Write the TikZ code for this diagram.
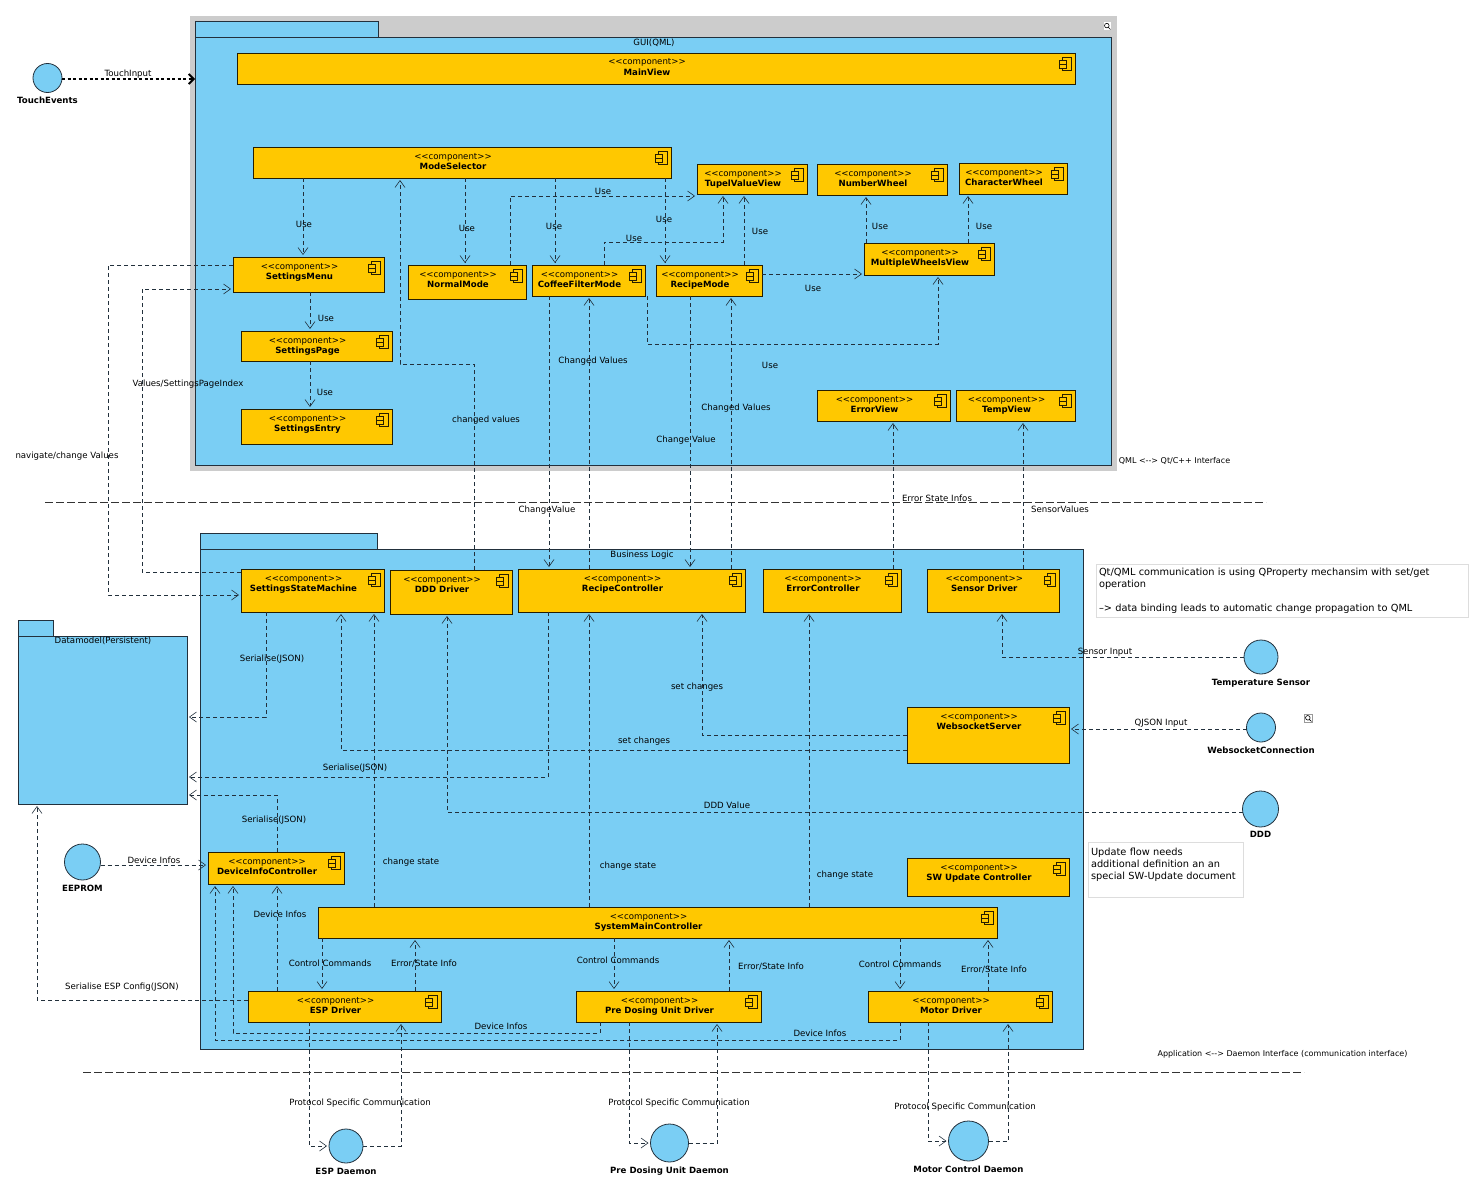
\documentclass[tikz,border=0pt]{standalone}
\usepackage{fontspec}
\usetikzlibrary{arrows.meta}
\newfontfamily\dejavu{DejaVu Sans}
\newcommand{\dvfont}{\dejavu\fontsize{8.6}{10.7}\selectfont}
\newcommand{\comptext}[1]{\begin{tabular}[t]{@{}c@{}}<<component>>\\\bfseries #1\end{tabular}\hspace*{18pt}}
\definecolor{pkgblue}{HTML}{7ACEF4}
\definecolor{compyellow}{HTML}{FFC800}
\definecolor{selgrey}{HTML}{CCCCCC}
\definecolor{linedark}{HTML}{22303C}
\definecolor{notegrey}{HTML}{DDDDDD}
\tikzset{
  pkgbody/.style={draw=linedark,fill=pkgblue,line width=0.8pt,inner sep=0pt,outer sep=0pt,anchor=north west},
  compbox/.style 2 args={draw=black!85!compyellow,fill=compyellow,line width=0.8pt,inner sep=0pt,outer sep=0pt,
    anchor=north west,font=\dvfont,minimum width=#1,text height=12pt,text depth=#2pt-12pt,
    path picture={
      \draw[line width=0.7pt] ([shift={(-12.4pt,-4pt)}]path picture bounding box.north east) rectangle ++(8.4pt,-13.7pt);
      \draw[line width=0.7pt,fill=compyellow] ([shift={(-15.4pt,-7.3pt)}]path picture bounding box.north east) rectangle ++(6.4pt,-8.4pt);
      \draw[line width=1.2pt] ([shift={(-15.4pt,-11.4pt)}]path picture bounding box.north east) -- ++(6.4pt,0);
    }},
  iface/.style={circle,draw=linedark,fill=pkgblue,line width=0.8pt,inner sep=0pt,outer sep=0pt},
  ifacetext/.style={font=\dvfont\bfseries,inner sep=0pt,label distance=4.5pt},
  dep/.style={draw=linedark,line width=0.6pt,dash pattern=on 4pt off 3pt,shorten >=2pt,-{Straight Barb[length=7pt,width=10pt,line width=0.6pt]}},
  lbl/.style={font=\dvfont,inner sep=0pt},
  smalllbl/.style={font=\dejavu\fontsize{8}{10}\selectfont,inner sep=0pt},
  divider/.style={draw=black!80,line width=0.6pt,dash pattern=on 8pt off 3pt},
  notebox/.style={draw=notegrey,fill=white,line width=0.8pt,inner sep=3pt,outer sep=0pt,anchor=north west,align=left,font=\dejavu\fontsize{9.8}{12}\selectfont}
}
\begin{document}
\begin{tikzpicture}[x=1pt,y=-1pt,label distance=4.5pt]
\useasboundingbox (0,0) rectangle (1482,1188);

% Marking selection behind GUI package
\fill[selgrey] (190,16) rectangle (1117,471);

% Marking packages
\node[pkgbody,minimum width=183,minimum height=16] (GUItab) at (195,21) {};
\node[pkgbody,minimum width=916,minimum height=428] (GUI) at (195,37) {};
\node[lbl] (GUIlabel) at (654,43) {GUI(QML)};
\node[pkgbody,minimum width=177,minimum height=16] (Businesstab) at (200,533) {};
\node[pkgbody,minimum width=883,minimum height=500] (Business) at (200,549) {};
\node[lbl] (Businesslabel) at (642,555) {Business Logic};
\node[pkgbody,minimum width=35,minimum height=16] (Datamodeltab) at (18,620) {};
\node[pkgbody,minimum width=169,minimum height=168] (Datamodel) at (18,636) {};
\node[lbl] (Datamodellabel) at (103,641) {Datamodel(Persistent)};

% Marking components of GUI
\node[compbox={838}{31}] (MainView) at (237,53) {\comptext{MainView}};
\node[compbox={418}{31}] (ModeSelector) at (253,147) {\comptext{ModeSelector}};
\node[compbox={110}{30}] (TupelValueView) at (697,164) {\comptext{TupelValueView}};
\node[compbox={130}{31}] (NumberWheel) at (817,164) {\comptext{NumberWheel}};
\node[compbox={108}{31}] (CharacterWheel) at (959,163) {\comptext{CharacterWheel}};
\node[compbox={151}{35}] (SettingsMenu) at (233,257) {\comptext{SettingsMenu}};
\node[compbox={118}{34}] (NormalMode) at (408,265) {\comptext{NormalMode}};
\node[compbox={113}{31}] (CoffeeFilterMode) at (532,265) {\comptext{CoffeeFilterMode}};
\node[compbox={106}{31}] (RecipeMode) at (656,265) {\comptext{RecipeMode}};
\node[compbox={130}{32}] (MultipleWheelsView) at (864,243) {\comptext{MultipleWheelsView}};
\node[compbox={151}{30}] (SettingsPage) at (241,331) {\comptext{SettingsPage}};
\node[compbox={151}{35}] (SettingsEntry) at (241,409) {\comptext{SettingsEntry}};
\node[compbox={133}{31}] (ErrorView) at (817,390) {\comptext{ErrorView}};
\node[compbox={119}{31}] (TempView) at (956,390) {\comptext{TempView}};

% Marking components of business logic
\node[compbox={143}{43}] (SettingsStateMachine) at (241,569) {\comptext{SettingsStateMachine}};
\node[compbox={122}{44}] (DDDDriver) at (390,570) {\comptext{DDD Driver}};
\node[compbox={227}{43}] (RecipeController) at (518,569) {\comptext{RecipeController}};
\node[compbox={138}{43}] (ErrorController) at (763,569) {\comptext{ErrorController}};
\node[compbox={132.5}{43}] (SensorDriver) at (927,569) {\comptext{Sensor Driver}};
\node[compbox={162}{56}] (WebsocketServer) at (907,707) {\comptext{WebsocketServer}};
\node[compbox={162}{38}] (SWUpdateController) at (907,858) {\comptext{SW Update Controller}};
\node[compbox={136}{32}] (DeviceInfoController) at (208,852) {\comptext{DeviceInfoController}};
\node[compbox={679}{31}] (SystemMainController) at (318,907) {\comptext{SystemMainController}};
\node[compbox={193}{31}] (ESPDriver) at (248,991) {\comptext{ESP Driver}};
\node[compbox={185}{31}] (PreDosingDriver) at (576,991) {\comptext{Pre Dosing Unit Driver}};
\node[compbox={184}{31}] (MotorDriver) at (868,991) {\comptext{Motor Driver}};

% Marking interfaces
\node[iface,minimum size=29,label={[ifacetext]below:TouchEvents}] (TouchEvents) at (47.5,78) {};
\node[iface,minimum size=34,label={[ifacetext]below:Temperature Sensor}] (TemperatureSensor) at (1261,657) {};
\node[iface,minimum size=29,label={[ifacetext]below:WebsocketConnection}] (WebsocketConnection) at (1261,727.5) {};
\node[iface,minimum size=36,label={[ifacetext]below:DDD}] (DDD) at (1260.5,809) {};
\node[iface,minimum size=36,label={[ifacetext]below:EEPROM}] (EEPROM) at (82.5,862) {};
\node[iface,minimum size=34,label={[ifacetext]below:ESP Daemon}] (ESPDaemon) at (346,1146) {};
\node[iface,minimum size=38,label={[ifacetext]below:Pre Dosing Unit Daemon}] (PreDosingDaemon) at (669.5,1143) {};
\node[iface,minimum size=40,label={[ifacetext]below:Motor Control Daemon}] (MotorDaemon) at (968.5,1141) {};

% Marking notes
\node[notebox,text width=366pt,minimum height=53] (PropertyNote) at (1096,564) {Qt/QML communication is using QProperty mechansim with set/get\\operation\\[12pt]–> data binding leads to automatic change propagation to QML};
\node[notebox,text width=149pt,minimum height=55] (UpdateNote) at (1088,842) {Update flow needs\\additional definition an an\\special SW-Update document\\\mbox{}};

% Drawing segment TouchEvents GUI
\draw[black,line width=2.3pt,dash pattern=on 3pt off 2.5pt,-{Straight Barb[length=5pt,width=10pt,line width=1.8pt]}] (TouchEvents.east |- 0,79) -- (GUI.west |- 0,79);
\node[lbl] (TouchInputlabel) at (128,74) {TouchInput};

% Drawing segments from ModeSelector
\draw[dep] (ModeSelector.south -| 303,0) -- (SettingsMenu.north -| 303,0);
\draw[dep] (ModeSelector.south -| 465,0) -- (NormalMode.north -| 465,0);
\draw[dep] (ModeSelector.south -| 555,0) -- (CoffeeFilterMode.north -| 555,0);
\draw[dep] (ModeSelector.south -| 665,0) -- (RecipeMode.north -| 665,0);
\node[lbl] (Use1) at (304,224) {Use};
\node[lbl] (Use2) at (467,228) {Use};
\node[lbl] (Use3) at (554,226) {Use};
\node[lbl] (Use4) at (664,219) {Use};

% Drawing segments to TupelValueView
\draw[dep] (NormalMode.north -| 510,0) |- (TupelValueView.west |- 0,196);
\draw[dep] (CoffeeFilterMode.north -| 604,0) |- (723,242) -- (TupelValueView.south -| 723,0);
\draw[dep] (RecipeMode.north -| 744,0) -- (TupelValueView.south -| 744,0);
\node[lbl] (Use5) at (603,191) {Use};
\node[lbl] (Use6) at (634,238) {Use};
\node[lbl] (Use7) at (760,231) {Use};

% Drawing segments around MultipleWheelsView
\draw[dep] (RecipeMode.east |- 0,274) -- (MultipleWheelsView.west |- 0,274);
\draw[dep] (MultipleWheelsView.north -| 866,0) -- (NumberWheel.south -| 866,0);
\draw[dep] (MultipleWheelsView.north -| 968,0) -- (CharacterWheel.south -| 968,0);
\draw[dep] (CoffeeFilterMode.south -| 647,0) |- (938,344) -- (MultipleWheelsView.south -| 938,0);
\node[lbl] (Use8) at (813,288) {Use};
\node[lbl] (Use9) at (880,226) {Use};
\node[lbl] (Use10) at (984,226) {Use};
\node[lbl] (Use11) at (770,365) {Use};

% Drawing segments of settings
\draw[dep] (SettingsMenu.south -| 310,0) -- (SettingsPage.north -| 310,0);
\draw[dep] (SettingsPage.south -| 310,0) -- (SettingsEntry.north -| 310,0);
\draw[dep] (SettingsMenu.west |- 0,265) -| (108,595) -- (SettingsStateMachine.west |- 0,595);
\draw[dep] (SettingsStateMachine.west |- 0,572) -| (142,289) -- (SettingsMenu.west |- 0,289);
\node[lbl] (Use12) at (326,318) {Use};
\node[lbl] (Use13) at (325,392) {Use};
\node[lbl] (Navigatelabel) at (67,456) {navigate/change Values};
\node[lbl] (Indexlabel) at (188,384) {Values/SettingsPageIndex};

% Drawing segments across the interface
\draw[dep] (DDDDriver.north -| 474,0) |- (400,364) -- (ModeSelector.south -| 400,0);
\draw[dep] (CoffeeFilterMode.south -| 549,0) -- (RecipeController.north -| 549,0);
\draw[dep] (RecipeController.north -| 589,0) -- (CoffeeFilterMode.south -| 589,0);
\draw[dep] (RecipeMode.south -| 690,0) -- (RecipeController.north -| 690,0);
\draw[dep] (RecipeController.north -| 731,0) -- (RecipeMode.south -| 731,0);
\draw[dep] (ErrorController.north -| 893,0) -- (ErrorView.south -| 893,0);
\draw[dep] (SensorDriver.north -| 1023,0) -- (TempView.south -| 1023,0);
\node[lbl] (ChangedValues1) at (486,420) {changed values};
\node[lbl] (ChangeValue1) at (547,510) {ChangeValue};
\node[lbl] (ChangedValues2) at (593,361) {Changed Values};
\node[lbl] (ChangeValue2) at (686,440) {Change Value};
\node[lbl] (ChangedValues3) at (736,408) {Changed Values};
\node[lbl] (ErrorInfos) at (937,498) {Error State Infos};
\node[lbl] (SensorValues) at (1060,509) {SensorValues};

% Drawing segments to Datamodel
\draw[dep] (SettingsStateMachine.south -| 266,0) |- (Datamodel.east |- 0,717);
\draw[dep] (RecipeController.south -| 548,0) |- (Datamodel.east |- 0,777);
\draw[dep] (DeviceInfoController.north -| 277,0) |- (Datamodel.east |- 0,795);
\draw[dep] (ESPDriver.west |- 0,1000) -| (Datamodel.south -| 37,0);
\node[lbl] (Serialise1) at (272,659) {Serialise(JSON)};
\node[lbl] (Serialise2) at (355,768) {Serialise(JSON)};
\node[lbl] (Serialise3) at (274,820) {Serialise(JSON)};
\node[lbl] (Serialise4) at (122,987) {Serialise ESP Config(JSON)};

% Drawing segments to DeviceInfoController
\draw[dep] (EEPROM.east |- 0,865) -- (DeviceInfoController.west |- 0,865);
\draw[dep] (ESPDriver.north -| 277,0) -- (DeviceInfoController.south -| 277,0);
\draw[dep] (PreDosingDriver.south -| 600,0) |- (233,1033) -- (DeviceInfoController.south -| 233,0);
\draw[dep] (MotorDriver.south -| 900,0) |- (215,1040) -- (DeviceInfoController.south -| 215,0);
\node[lbl] (DeviceInfos1) at (154,860) {Device Infos};
\node[lbl] (DeviceInfos2) at (280,914) {Device Infos};
\node[lbl] (DeviceInfos3) at (501,1026) {Device Infos};
\node[lbl] (DeviceInfos4) at (820,1033) {Device Infos};

% Drawing segments from SystemMainController
\draw[dep] (SystemMainController.north -| 374,0) -- (SettingsStateMachine.south -| 374,0);
\draw[dep] (SystemMainController.north -| 589,0) -- (RecipeController.south -| 589,0);
\draw[dep] (SystemMainController.north -| 809,0) -- (ErrorController.south -| 809,0);
\draw[dep] (SystemMainController.south -| 322,0) -- (ESPDriver.north -| 322,0);
\draw[dep] (ESPDriver.north -| 415,0) -- (SystemMainController.south -| 415,0);
\draw[dep] (SystemMainController.south -| 614,0) -- (PreDosingDriver.north -| 614,0);
\draw[dep] (PreDosingDriver.north -| 729,0) -- (SystemMainController.south -| 729,0);
\draw[dep] (SystemMainController.south -| 900,0) -- (MotorDriver.north -| 900,0);
\draw[dep] (MotorDriver.north -| 988,0) -- (SystemMainController.south -| 988,0);
\node[lbl] (ChangeState1) at (411,862) {change state};
\node[lbl] (ChangeState2) at (628,866) {change state};
\node[lbl] (ChangeState3) at (845,875) {change state};
\node[lbl] (Control1) at (330,963) {Control Commands};
\node[lbl] (ErrorState1) at (424,964) {Error/State Info};
\node[lbl] (Control2) at (618,960) {Control Commands};
\node[lbl] (ErrorState2) at (771,967) {Error/State Info};
\node[lbl] (Control3) at (900,964) {Control Commands};
\node[lbl] (ErrorState3) at (994,970) {Error/State Info};

% Drawing segments from the right hand side
\draw[dep] (WebsocketServer.west |- 0,750) -| (SettingsStateMachine.south -| 341,0);
\draw[dep] (WebsocketServer.west |- 0,735) -| (RecipeController.south -| 702,0);
\draw[dep] (WebsocketConnection.west |- 0,729) -- (WebsocketServer.east |- 0,729);
\draw[dep] (TemperatureSensor.west |- 0,657) -| (SensorDriver.south -| 1002,0);
\draw[dep] (DDD.west |- 0,812) -| (DDDDriver.south -| 447,0);
\node[lbl] (SetChanges1) at (644,741) {set changes};
\node[lbl] (SetChanges2) at (697,687) {set changes};
\node[lbl] (QJSONInput) at (1161,723) {QJSON Input};
\node[lbl] (SensorInput) at (1105,652) {Sensor Input};
\node[lbl] (DDDValue) at (727,805) {DDD Value};

% Drawing segments to the daemons
\draw[dep] (ESPDriver.south -| 309,0) |- (ESPDaemon.west);
\draw[dep] (ESPDaemon.east) -| (ESPDriver.south -| 401,0);
\draw[dep] (PreDosingDriver.south -| 629,0) |- (PreDosingDaemon.west);
\draw[dep] (PreDosingDaemon.east) -| (PreDosingDriver.south -| 717,0);
\draw[dep] (MotorDriver.south -| 928,0) |- (MotorDaemon.west);
\draw[dep] (MotorDaemon.east) -| (MotorDriver.south -| 1008,0);
\node[lbl] (Protocol1) at (360,1103) {Protocol Specific Communication};
\node[lbl] (Protocol2) at (679,1103) {Protocol Specific Communication};
\node[lbl] (Protocol3) at (965,1107) {Protocol Specific Communication};

% Drawing dividers
\draw[divider] (45,502) -- (1266,502);
\draw[divider] (83,1072) -- (1304,1072);
\node[smalllbl] (QMLlabel) at (1174.5,461) {QML <--> Qt/C++ Interface};
\node[smalllbl] (Daemonlabel) at (1282.5,1054) {Application <--> Daemon Interface (communication interface)};

% Marking magnifiers
\fill[white] (1103.5,22.5) rectangle (1111,30);
\draw[black,line width=0.6pt] (1106.8,25.6) circle (2.3) (1108.4,27.4) -- (1110.5,29.5);
\fill[white,draw=black!40,line width=0.4pt] (1304.5,714.5) rectangle (1312,722);
\draw[black,line width=0.6pt] (1307.8,717.8) circle (2.3) (1309.4,719.6) -- (1311.5,721.5);
\end{tikzpicture}
\end{document}
